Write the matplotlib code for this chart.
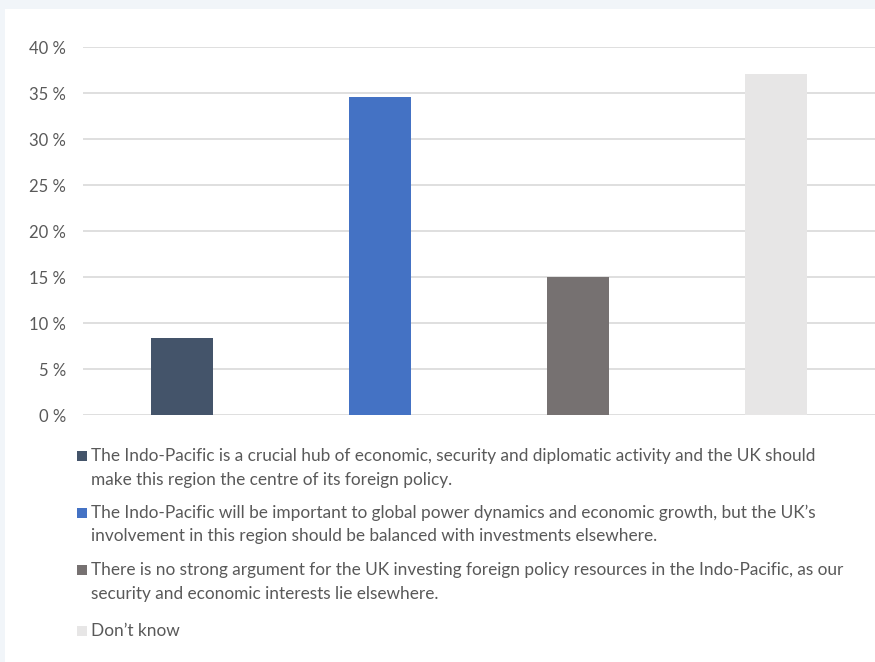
import matplotlib
matplotlib.use("Agg")
import matplotlib.pyplot as plt
from matplotlib.patches import Rectangle

plt.rcParams['font.family'] = ['Lato', 'DejaVu Sans']

# Data
categories = [
    "The Indo-Pacific is a crucial hub of economic, security and diplomatic activity and the UK should\nmake this region the centre of its foreign policy.",
    "The Indo-Pacific will be important to global power dynamics and economic growth, but the UK\u2019s\ninvolvement in this region should be balanced with investments elsewhere.",
    "There is no strong argument for the UK investing foreign policy resources in the Indo-Pacific, as our\nsecurity and economic interests lie elsewhere.",
    "Don\u2019t know",
]
values = [8.4, 34.6, 15.0, 37.1]
colors = ["#44546a", "#4472c4", "#767171", "#e7e6e6"]
yticks = [0, 5, 10, 15, 20, 25, 30, 35, 40]

W, H = 875, 662
fig = plt.figure(figsize=(W / 100, H / 100), dpi=100, facecolor="#f1f5f9")
# white panel behind everything
fig.patches.append(Rectangle((5 / W, 0), 1, 1 - 9 / H, transform=fig.transFigure,
                             facecolor="white", edgecolor="none", zorder=-1))

ax = fig.add_axes([83 / W, 1 - 415 / H, 1 - 83 / W, (415 - 47) / H])
ax.set_zorder(2)
ax.set_facecolor("none")
ax.bar(range(len(values)), values, width=0.31, color=colors, zorder=3)
ax.set_xlim(-0.5, 3.5)
ax.set_ylim(0, 40)
ax.set_yticks(yticks)
ax.set_yticklabels([f"{t} %" for t in yticks])
ax.set_xticks([])
ax.grid(axis="y", color="#d9d9d9", linewidth=1.2, zorder=0)
for s in ax.spines.values():
    s.set_visible(False)
ax.tick_params(axis="y", length=0, pad=12.2, labelsize=12, labelcolor="#595959")

# legend, one entry per category, text wraps onto a second line
y_rows = [461.5, 518.5, 575.5, 636]   # baseline of first line, px from top
line_h = 23
for lab, col, y in zip(categories, colors, y_rows):
    fig.patches.append(Rectangle((77 / W, 1 - (y - 0.5) / H), 10 / W, 10 / H,
                                 transform=fig.transFigure, facecolor=col,
                                 edgecolor="none"))
    # va="baseline" pins the last line, so push down by the extra lines
    y_last = y + lab.count("\n") * line_h
    fig.text(91 / W, 1 - y_last / H, lab, ha="left", va="baseline", fontsize=12.4,
             color="#595959", linespacing=1.6)

fig.savefig("out.png", dpi=100, facecolor=fig.get_facecolor())
